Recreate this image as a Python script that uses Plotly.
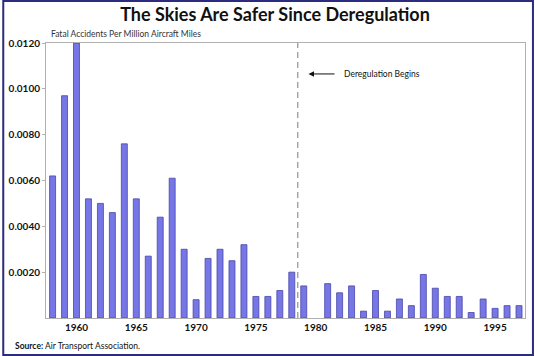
import plotly.graph_objects as go

years = list(range(1958, 1998))
rates = [0.0062, 0.0097, 0.0120, 0.0052, 0.0050, 0.0046, 0.0076, 0.0052, 0.0027, 0.0044,
         0.0061, 0.0030, 0.0008, 0.0026, 0.0030, 0.0025, 0.0032, 0.00094, 0.00094, 0.0012,
         0.0020, 0.0014, 0.0, 0.0015, 0.0011, 0.0014, 0.0003, 0.0012, 0.0003, 0.00083,
         0.00054, 0.0019, 0.0013, 0.00094, 0.00094, 0.00024, 0.00083, 0.00042, 0.00054, 0.00054]
y_ticks = [0.0020, 0.0040, 0.0060, 0.0080, 0.0100, 0.0120]
y_tick_labels = ["0.0020", "0.0040", "0.0060", "0.0080", "0.0100", "0.0120"]
x_ticks = [1960, 1965, 1970, 1975, 1980, 1985, 1990, 1995]
dereg_year = 1978.5

W, H = 535, 356
L, R, T, B = 44, 9, 43, 38
pw, ph = W - L - R, H - T - B

def px_x(p):
    return (p - L) / pw

def px_y(p):
    return (H - B - p) / ph

fig = go.Figure()
fig.add_trace(go.Bar(
    x=years, y=rates, width=0.5,
    marker=dict(color="#7676e6",
                line=dict(color="#4848a8", width=[0 if v == 0 else 0.8 for v in rates])),
    hoverinfo="x+y",
))

fig.add_shape(type="line", xref="x", yref="paper", x0=dereg_year, x1=dereg_year, y0=0, y1=1,
              line=dict(color="#9a9a9a", width=1.3, dash="6px,4px"))

# border frame
fig.add_shape(type="rect", xref="paper", yref="paper",
              x0=px_x(1), x1=px_x(W - 1), y0=px_y(H - 1), y1=px_y(1),
              line=dict(color="#2b2b80", width=2), layer="above")

fig.add_annotation(x=1979.4, y=0.01065, ax=1981.7, ay=0.01065, xref="x", yref="y",
                   axref="x", ayref="y", text="", showarrow=True, arrowhead=2,
                   arrowsize=1.1, arrowwidth=1, arrowcolor="#111")
fig.add_annotation(x=1982.2, y=0.01065, xref="x", yref="y", text="Deregulation Begins",
                   showarrow=False, xanchor="left", yanchor="middle",
                   font=dict(family="Lato", size=8.5, color="#111"))

fig.add_annotation(x=px_x(47), y=px_y(34), xref="paper", yref="paper",
                   text="Fatal Accidents Per Million Aircraft Miles", showarrow=False,
                   xanchor="left", yanchor="middle",
                   font=dict(family="Lato", size=8.5, color="#333"))
fig.add_annotation(x=px_x(11), y=px_y(346), xref="paper", yref="paper",
                   text="<b>Source:</b> Air Transport Association.", showarrow=False,
                   xanchor="left", yanchor="middle",
                   font=dict(family="Lato", size=8.5, color="#111"))

tick_font = dict(family="Lato", size=10, color="#111", weight="bold")

fig.update_layout(
    width=W, height=H,
    margin=dict(l=L, r=R, t=T, b=B),
    paper_bgcolor="white", plot_bgcolor="white",
    showlegend=False,
    title=dict(text="<b>The Skies Are Safer Since Deregulation</b>",
               x=275 / W, xanchor="center", y=1 - 15 / H, yanchor="middle",
               font=dict(family="Lato", size=18, color="#111")),
    xaxis=dict(range=[1957.45, 1997.5], tickvals=x_ticks, ticktext=[str(t) for t in x_ticks],
               showgrid=False, zeroline=False, showline=True, linecolor="#b0b0b0",
               linewidth=1, mirror=True, ticks="", tickfont=tick_font),
    yaxis=dict(range=[0, 0.0120], tickvals=y_ticks, ticktext=y_tick_labels,
               showgrid=False, zeroline=False, showline=True, linecolor="#b0b0b0",
               linewidth=1, mirror=True, ticks="outside", ticklen=3, tickcolor="#b0b0b0",
               tickfont=tick_font),
)

fig.write_html("out.html", config={"displayModeBar": False},
               post_script="document.body.style.margin='0';document.body.style.padding='0';")
